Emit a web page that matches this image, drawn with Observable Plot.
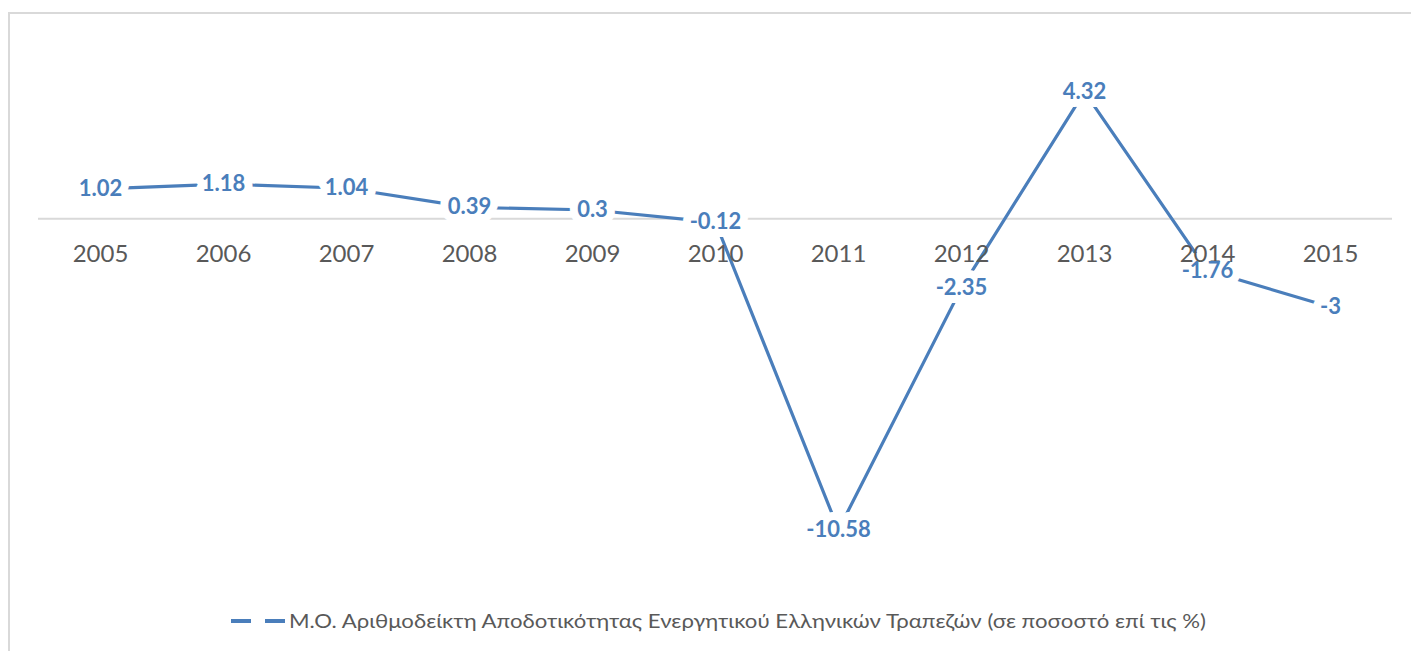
<!DOCTYPE html>
<html>
<head>
<meta charset="utf-8">
<script src="https://cdn.jsdelivr.net/npm/d3@7"></script>
<script src="https://cdn.jsdelivr.net/npm/@observablehq/plot@0.6"></script>
<style>
  html, body { margin: 0; padding: 0; background: #fff; }
  #wrap { position: relative; width: 1411px; height: 651px; overflow: hidden; }
  #frame { position: absolute; left: 8px; top: 12px; right: -10px; bottom: -10px;
           border-left: 2px solid #d9d9d9; border-top: 2px solid #d9d9d9; }
  #chart { position: absolute; left: 0; top: 0; }
  #legend { position: absolute; left: 0; top: 600px; }
</style>
</head>
<body>
<div id="wrap">
  <div id="frame"></div>
  <div id="chart"></div>
  <div id="legend"></div>
</div>
<script>
const years = ["2005","2006","2007","2008","2009","2010","2011","2012","2013","2014","2015"];
const values = [1.02, 1.18, 1.04, 0.39, 0.3, -0.12, -10.58, -2.35, 4.32, -1.76, -3];
const labels = ["1.02","1.18","1.04","0.39","0.3","-0.12","-10.58","-2.35","4.32","-1.76","-3"];
const seriesName = "Μ.Ο. Αριθμοδείκτη Αποδοτικότητας Ενεργητικού Ελληνικών Τραπεζών (σε ποσοστό επί τις %)";

const blue = "#4a7ebb";
const data = years.map((y, i) => ({year: y, value: values[i], label: labels[i]}));

const chart = Plot.plot({
  width: 1411,
  height: 595,
  marginTop: 42,
  marginBottom: 24,
  marginLeft: 38,
  marginRight: 19,
  style: {fontFamily: "Lato, 'Open Sans', sans-serif", background: "transparent"},
  x: {type: "point", domain: years, padding: 0.5, axis: null},
  y: {domain: [-12, 6], axis: null},
  marks: [
    Plot.ruleY([0], {stroke: "#d9d9d9", strokeWidth: 2}),
    Plot.line(data, {x: "year", y: "value", stroke: blue, strokeWidth: 3.2}),
    Plot.text(data, {x: "year", y: "value", text: "label", fill: "white", stroke: "white",
      strokeWidth: 16, strokeLinejoin: "round", fontSize: 22, fontWeight: "bold"}),
    Plot.text(years, {x: d => d, y: () => 0, dy: 35, text: d => d, fill: "#595959", fontSize: 24}),
    Plot.text(data, {x: "year", y: "value", text: "label", fill: blue, fontSize: 22, fontWeight: "bold"})
  ]
});
document.getElementById("chart").appendChild(chart);

// legend
const lg = d3.select("#legend").append("svg").attr("width", 1411).attr("height", 45);
lg.append("line").attr("x1", 231).attr("x2", 251).attr("y1", 21).attr("y2", 21)
  .attr("stroke", blue).attr("stroke-width", 4);
lg.append("line").attr("x1", 265).attr("x2", 285).attr("y1", 21).attr("y2", 21)
  .attr("stroke", blue).attr("stroke-width", 4);
lg.append("text").attr("x", 289).attr("y", 21).attr("dy", "0.35em")
  .attr("font-family", "Lato, 'Open Sans', sans-serif").attr("font-size", 20)
  .attr("fill", "#595959")
  .attr("textLength", 917).attr("lengthAdjust", "spacingAndGlyphs")
  .text(seriesName);
</script>
</body>
</html>
